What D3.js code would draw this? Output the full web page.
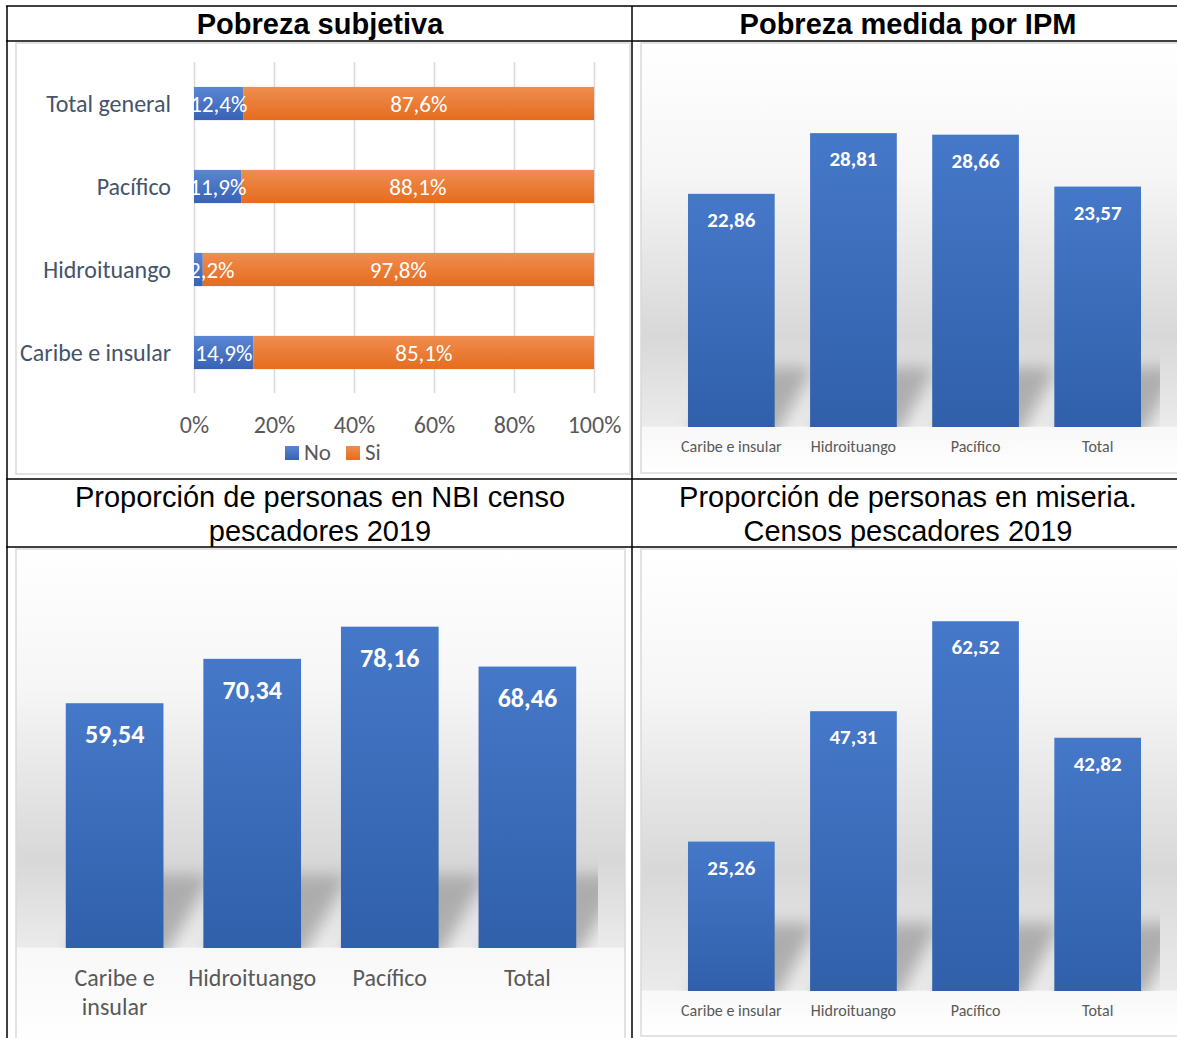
<!DOCTYPE html>
<html>
<head>
<meta charset="utf-8">
<script src="https://cdn.jsdelivr.net/npm/d3@7"></script>
<style>
  body { margin: 0; background: #fff; }
  svg { display: block; }
</style>
</head>
<body>
<script>
// data
var subjCats = ["Total general", "Pacífico", "Hidroituango", "Caribe e insular"];
var subjNo = [12.4, 11.9, 2.2, 14.9];
var subjSi = [87.6, 88.1, 97.8, 85.1];
var subjKeys = ["No", "Si"];
var percentTicks = [0, 20, 40, 60, 80, 100];

var regionCats = ["Caribe e insular", "Hidroituango", "Pacífico", "Total"];
var ipmValues = [22.86, 28.81, 28.66, 23.57];
var nbiValues = [59.54, 70.34, 78.16, 68.46];
var miseriaValues = [25.26, 47.31, 62.52, 42.82];

var titles = [
  ["Pobreza subjetiva"],
  ["Pobreza medida por IPM"],
  ["Proporción de personas en NBI censo", "pescadores 2019"],
  ["Proporción de personas en miseria.", "Censos pescadores 2019"]
];

var bodyFont = "Carlito, Calibri, Lato, sans-serif";
var headFont = "'Liberation Sans', Arial, sans-serif";
var comma = function(v, d) { return v.toFixed(d).replace(".", ","); };

var width = 1177, height = 1038;

var svg = d3.select("body").append("svg")
  .attr("width", width)
  .attr("height", height);

var defs = svg.append("defs");

function vGrad(id, top, bottom) {
  var gr = defs.append("linearGradient").attr("id", id)
    .attr("x1", 0).attr("y1", 0).attr("x2", 0).attr("y2", 1);
  gr.append("stop").attr("offset", 0).attr("stop-color", top);
  gr.append("stop").attr("offset", 1).attr("stop-color", bottom);
}
vGrad("barBlue", "#4678c9", "#3060aa");
vGrad("segBlue", "#5a86d4", "#3862b4");
vGrad("segOrange", "#f08d4f", "#e56c1e");

defs.append("filter").attr("id", "blur")
  .attr("x", "-40%").attr("y", "-40%").attr("width", "180%").attr("height", "180%")
  .append("feGaussianBlur").attr("stdDeviation", 8);

// ---------- panel 1: stacked horizontal bars ----------
(function() {
  var g = svg.append("g");
  g.append("rect")
    .attr("x", 16).attr("y", 43).attr("width", 614).attr("height", 431)
    .attr("fill", "#fff").attr("stroke", "#d9d9d9").attr("stroke-width", 1.5);

  var x = d3.scaleLinear().domain([0, 100]).range([194, 594]);
  var y = d3.scaleBand().domain(subjCats).range([62, 394])
    .paddingInner(0.6).paddingOuter(0.3);

  var axis = g.append("g")
    .attr("transform", "translate(0,393)")
    .call(d3.axisBottom(x).tickValues(percentTicks)
      .tickFormat(function(d) { return d + "%"; })
      .tickSize(-331).tickPadding(23));
  axis.select(".domain").remove();
  axis.selectAll("line").attr("stroke", "#d9d9d9").attr("stroke-width", 1.5);
  axis.selectAll("text")
    .attr("fill", "#595959")
    .style("font-family", bodyFont).style("font-size", "24px");

  var rows = subjCats.map(function(c, i) { return { cat: c, No: subjNo[i], Si: subjSi[i] }; });
  var series = d3.stack().keys(subjKeys)(rows);
  var fills = { No: "url(#segBlue)", Si: "url(#segOrange)" };
  var segs = [];
  series.forEach(function(s) {
    s.forEach(function(d) { d.key = s.key; segs.push(d); });
  });

  g.append("g").selectAll("rect")
    .data(segs)
    .enter().append("rect")
    .attr("x", function(d) { return x(d[0]); })
    .attr("width", function(d) { return x(d[1]) - x(d[0]); })
    .attr("y", function(d) { return y(d.data.cat); })
    .attr("height", y.bandwidth())
    .attr("fill", function(d) { return fills[d.key]; });

  g.append("g").selectAll("text")
    .data(segs)
    .enter().append("text")
    .attr("y", function(d) { return y(d.data.cat) + y.bandwidth() / 2 + 8; })
    .attr("text-anchor", "middle")
    .attr("fill", "#fff")
    .style("font-family", bodyFont).style("font-size", "23px")
    .text(function(d) { return comma(d[1] - d[0], 1) + "%"; })
    .attr("x", function(d) {
      // keep label from running far left of the plot
      var w = this.getComputedTextLength();
      return Math.max(x((d[0] + d[1]) / 2), x(0) + w / 2 - 5);
    });

  g.selectAll(".cat")
    .data(subjCats)
    .enter().append("text")
    .attr("class", "cat")
    .attr("x", 171)
    .attr("y", function(d) { return y(d) + y.bandwidth() / 2 + 8; })
    .attr("text-anchor", "end")
    .attr("fill", "#44546a")
    .style("font-family", bodyFont).style("font-size", "24px")
    .text(function(d) { return d; });

  // legend
  var legend = g.selectAll(".legend")
    .data(subjKeys)
    .enter().append("g")
    .attr("class", "legend")
    .attr("transform", function(d, i) { return "translate(" + (285 + i * 61) + ",446)"; });
  legend.append("rect")
    .attr("width", 14).attr("height", 14)
    .attr("fill", function(d) { return fills[d]; });
  legend.append("text")
    .attr("x", 19).attr("y", 14)
    .attr("fill", "#595959")
    .style("font-family", bodyFont).style("font-size", "23px")
    .text(function(d) { return d; });
})();

// ---------- column panels ----------
function wrapLabel(text, maxWidth, lineHeight) {
  text.each(function() {
    var t = d3.select(this);
    var words = t.text().split(" ");
    var x = t.attr("x"), y = +t.attr("y");
    t.text(null);
    var line = [], n = 0;
    var tspan = t.append("tspan").attr("x", x).attr("y", y);
    words.forEach(function(w) {
      line.push(w);
      tspan.text(line.join(" "));
      if (tspan.node().getComputedTextLength() > maxWidth && line.length > 1) {
        line.pop();
        tspan.text(line.join(" "));
        line = [w];
        n++;
        tspan = t.append("tspan").attr("x", x).attr("y", y + n * lineHeight).text(w);
      }
    });
  });
}

function columnPanel(cfg) {
  var g = svg.append("g");
  var bgId = cfg.id + "-bg";
  var span = cfg.box[3];
  var off = function(v) { return (v - cfg.box[1]) / span; };

  var bg = defs.append("linearGradient").attr("id", bgId)
    .attr("gradientUnits", "userSpaceOnUse")
    .attr("x1", 0).attr("y1", cfg.box[1]).attr("x2", 0).attr("y2", cfg.box[1] + span);
  [[0, "#ffffff"],
   [off(cfg.box[1] + 0.45 * (cfg.darkY - cfg.box[1])), "#f6f6f6"],
   [off(cfg.darkY), "#d8d8d8"],
   [off(cfg.yRange[0] - 1), "#ebebeb"],
   [off(cfg.yRange[0]), "#f8f8f8"],
   [1, "#ffffff"]].forEach(function(s) {
    bg.append("stop").attr("offset", s[0]).attr("stop-color", s[1]);
  });

  g.append("rect")
    .attr("x", cfg.box[0]).attr("y", cfg.box[1])
    .attr("width", cfg.box[2]).attr("height", cfg.box[3])
    .attr("fill", "url(#" + bgId + ")")
    .attr("stroke", "#d9d9d9").attr("stroke-width", 1.5);

  var x = d3.scaleBand().domain(cfg.cats).range(cfg.xRange)
    .paddingInner(0.29).paddingOuter(0.18);
  var y = d3.scaleLinear().domain(cfg.yDomain).range(cfg.yRange);
  var base = y(0);

  var clipId = cfg.id + "-clip";
  defs.append("clipPath").attr("id", clipId)
    .append("rect")
    .attr("x", cfg.box[0]).attr("y", cfg.box[1])
    .attr("width", cfg.plotRight - cfg.box[0]).attr("height", base - cfg.box[1]);

  // bar shadows
  g.append("g").attr("clip-path", "url(#" + clipId + ")")
    .selectAll("polygon")
    .data(cfg.values)
    .enter().append("polygon")
    .attr("points", function(d, i) {
      var x0 = x(cfg.cats[i]), x1 = x0 + x.bandwidth();
      var top = Math.max(y(d), base - cfg.shadow[1]);
      return [[x0, base + 10], [x1, base + 10], [x1 + cfg.shadow[0], top], [x0 + cfg.shadow[0], top]].join(" ");
    })
    .attr("fill", "#a0a0a0")
    .attr("opacity", 0.8)
    .attr("filter", "url(#blur)");

  g.selectAll(".bar")
    .data(cfg.values)
    .enter().append("rect")
    .attr("class", "bar")
    .attr("x", function(d, i) { return x(cfg.cats[i]); })
    .attr("width", x.bandwidth())
    .attr("y", function(d) { return y(d); })
    .attr("height", function(d) { return base - y(d); })
    .attr("fill", "url(#barBlue)");

  g.selectAll(".val")
    .data(cfg.values)
    .enter().append("text")
    .attr("class", "val")
    .attr("x", function(d, i) { return x(cfg.cats[i]) + x.bandwidth() / 2; })
    .attr("y", function(d) { return y(d) + cfg.valueDy; })
    .attr("text-anchor", "middle")
    .attr("fill", "#fff")
    .style("font-family", bodyFont).style("font-weight", "bold")
    .style("font-size", cfg.valueSize + "px")
    .text(function(d) { return comma(d, 2); });

  var cats = g.selectAll(".cat")
    .data(cfg.cats)
    .enter().append("text")
    .attr("class", "cat")
    .attr("x", function(d) { return x(d) + x.bandwidth() / 2; })
    .attr("y", cfg.catY)
    .attr("text-anchor", "middle")
    .attr("fill", "#595959")
    .style("font-family", bodyFont).style("font-size", cfg.catSize + "px")
    .text(function(d) { return d; });
  if (cfg.wrap) cats.call(wrapLabel, x.step() - 4, cfg.catSize * 1.2);
}

columnPanel({
  id: "ipm", cats: regionCats, values: ipmValues,
  box: [641, 43, 560, 430], xRange: [666, 1163], plotRight: 1160,
  yDomain: [0, 35], yRange: [427, 70], darkY: 335,
  shadow: [38, 60], valueDy: 33, valueSize: 21, catY: 452, catSize: 16
});

columnPanel({
  id: "nbi", cats: regionCats, values: nbiValues,
  box: [16, 549, 609, 500], xRange: [41, 601], plotRight: 598,
  yDomain: [0, 90], yRange: [948, 578], darkY: 860,
  shadow: [48, 74], valueDy: 40, valueSize: 26, catY: 986, catSize: 24, wrap: true
});

columnPanel({
  id: "mis", cats: regionCats, values: miseriaValues,
  box: [641, 549, 560, 487], xRange: [666, 1163], plotRight: 1160,
  yDomain: [0, 70], yRange: [991, 577], darkY: 870,
  shadow: [42, 68], valueDy: 33, valueSize: 21, catY: 1016, catSize: 16
});

// ---------- table frame and titles ----------
var cellCenters = [[320, 24], [908, 24], [320, 497], [908, 497]];
titles.forEach(function(lines, i) {
  var t = svg.append("text")
    .attr("text-anchor", "middle")
    .attr("fill", "#000")
    .style("font-family", headFont)
    .style("font-size", "29px")
    .style("font-weight", i < 2 ? "bold" : "normal");
  lines.forEach(function(l, j) {
    t.append("tspan")
      .attr("x", cellCenters[i][0])
      .attr("y", cellCenters[i][1] + 10 + j * 34)
      .text(l);
  });
});

var frame = svg.append("g").attr("stroke", "#000").attr("stroke-width", 1.5);
[6, 41, 479, 547].forEach(function(yy) {
  frame.append("line").attr("x1", 6).attr("x2", 1185).attr("y1", yy).attr("y2", yy);
});
[7, 632].forEach(function(xx) {
  frame.append("line").attr("x1", xx).attr("x2", xx).attr("y1", 6).attr("y2", 1038);
});
</script>
</body>
</html>
